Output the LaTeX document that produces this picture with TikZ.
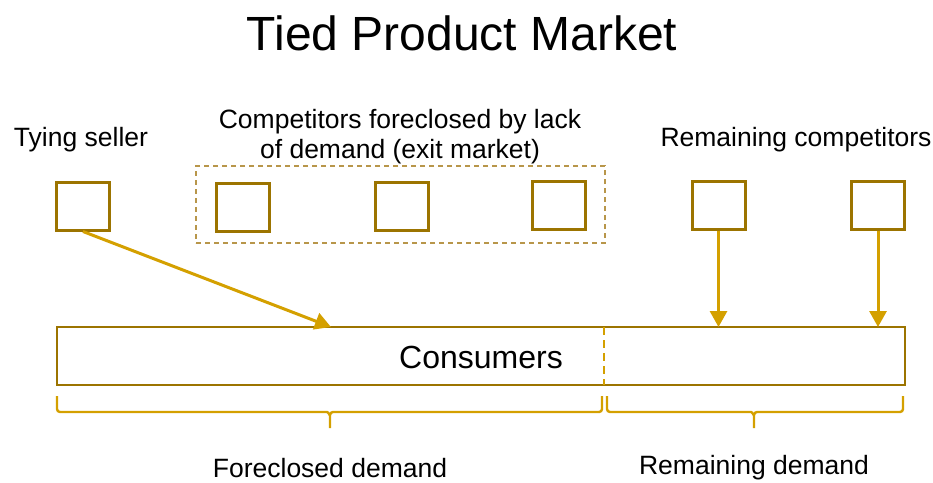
\documentclass[tikz,border=0pt]{standalone}
\usepackage{fontspec}
\setmainfont{Liberation Sans}
\usetikzlibrary{arrows.meta,fit}
\definecolor{boxgold}{HTML}{9C7400}
\definecolor{arrowgold}{HTML}{D4A000}
\definecolor{dashgold}{HTML}{B8964A}
\begin{document}
\begin{tikzpicture}[x=1pt,y=-1pt,
  firm/.style={draw=boxgold,line width=3pt,minimum width=53pt,minimum height=48pt,inner sep=0pt},
  feed/.style={draw=arrowgold,line width=3pt,-{Triangle[length=16pt,width=17pt]}},
  bracket/.style={draw=arrowgold,line width=2.4pt},
  lbl/.style={font=\fontsize{26.5}{30}\selectfont,align=center}]
\useasboundingbox (0,0) rectangle (933,482);

% title
\node[font=\fontsize{48}{52}\selectfont] (title) at (462,33) {Tied Product Market};

% labels above the firms
\node[lbl] (tyinglbl) at (81,140) {Tying seller};
\node[lbl] (foreclosedlbl) at (400,137) {Competitors foreclosed by lack\\of demand (exit market)};
\node[lbl] (remlbl) at (796,140) {Remaining competitors};

% firms
\node[firm] (tying) at (83,206) {};
\node[firm] (c1) at (242.5,207) {};
\node[firm] (c2) at (402,206) {};
\node[firm] (c3) at (559,205) {};
\node[firm] (r1) at (718.5,205) {};
\node[firm] (r2) at (878,205) {};

% dashed group of foreclosed competitors
\node[draw=dashgold,dash pattern=on 5pt off 4pt,line width=1.8pt,inner sep=0pt,fit={(196,166) (605,243)}] (exitgroup) {};

% consumer market
\node[draw=boxgold,line width=2.6pt,minimum width=848pt,minimum height=58pt,inner sep=0pt] (consumers) at (481,356) {};
\node[font=\fontsize{32}{36}\selectfont] (consumerslbl) at (481,357) {Consumers};
\coordinate (divtop) at (604,327);
\coordinate (divbot) at (604,385);
\draw[arrowgold,dash pattern=on 8pt off 5pt,line width=2.4pt] (divtop) -- (divbot);

% sales flows
\coordinate (tyingend) at (331,327);
\coordinate (r1end) at (718.5,327);
\coordinate (r2end) at (878,327);
\draw[feed] (tying.south) -- (tyingend);
\draw[feed] (r1.south) -- (r1end);
\draw[feed] (r2.south) -- (r2end);

% demand brackets
\draw[bracket] (57,396) -- (57,409) to[out=-90,in=180] (60,412) -- (327,412)
  to[out=0,in=-90] (330,415) -- (330,428);
\draw[bracket] (330,415) to[out=90,in=180] (333,412) -- (599,412)
  to[out=0,in=-90] (602,409) -- (602,396);
\draw[bracket] (607,396) -- (607,409) to[out=-90,in=180] (610,412) -- (751,412)
  to[out=0,in=-90] (754,415) -- (754,428);
\draw[bracket] (754,415) to[out=90,in=180] (757,412) -- (900,412)
  to[out=0,in=-90] (903,409) -- (903,396);

\node[lbl] (forelbl) at (330,468) {Foreclosed demand};
\node[lbl] (remdlbl) at (754,468) {Remaining demand};
\end{tikzpicture}
\end{document}
